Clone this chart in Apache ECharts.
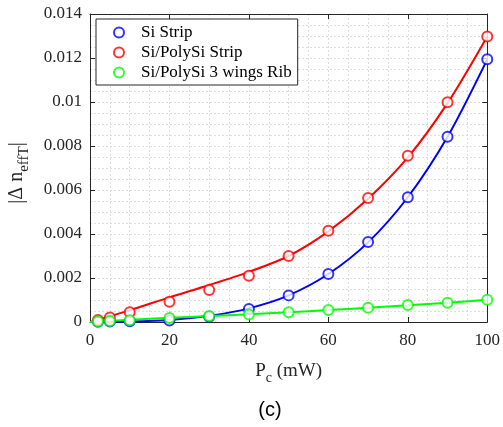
<!DOCTYPE html>
<html>
<head>
<meta charset="utf-8">
<script src="https://cdn.jsdelivr.net/npm/echarts@6/dist/echarts.min.js"></script>
<style>
  html, body { margin: 0; padding: 0; background: #fff; }
  #chart { width: 503px; height: 427px; }
</style>
</head>
<body>
<div id="chart"></div>
<script>
// Coupling power (mW) where the index change was measured
const powerPoints = [2, 5, 10, 20, 30, 40, 50, 60, 70, 80, 90, 100];
// Measured |Δ n_effT| for each waveguide
const siStrip = [0.00001, 0.00002, 0.00003, 0.00007, 0.00024, 0.00059, 0.00121, 0.00218, 0.00364, 0.00567, 0.00842, 0.01194];
const siPolyStrip = [0.00009, 0.00021, 0.00044, 0.00092, 0.00145, 0.00210, 0.00300, 0.00415, 0.00564, 0.00756, 0.00999, 0.01298];
const siPolyRib = [0.00002, 0.00004, 0.00008, 0.00018, 0.00027, 0.00034, 0.00044, 0.00055, 0.00065, 0.00077, 0.00088, 0.00101];

// Fitted trend curves sampled every 10 mW
const fitPower = [0, 10, 20, 30, 40, 50, 60, 70, 80, 90, 100];
const siStripFit = [0, 0.00002, 0.00009, 0.00028, 0.00062, 0.00121, 0.00218, 0.00362, 0.00567, 0.00842, 0.01194];
const siPolyStripFit = [0, 0.00053, 0.00112, 0.00168, 0.00228, 0.00300, 0.00412, 0.00560, 0.00748, 0.00995, 0.01298];
const siPolyRibFit = [0, 0.00010, 0.00019, 0.00027, 0.00035, 0.00044, 0.00054, 0.00065, 0.00076, 0.00088, 0.00101];

const seriesNames = ['Si Strip', 'Si/PolySi Strip', 'Si/PolySi 3 wings Rib'];
const seriesColors = ['#0000ff', '#ff0000', '#00ff00'];
const yTicks = { min: 0, max: 0.014, step: 0.002 };
const xTicks = { min: 0, max: 100, step: 20 };

const serif = '"Liberation Serif", "DejaVu Serif", serif';
const axisInk = '#262626';
const gridInk = '#dedede';

const zip = (xs, ys) => xs.map((x, i) => [x, ys[i]]);

const chart = echarts.init(document.getElementById('chart'), null, { renderer: 'canvas' });

const gridLine = { show: true, lineStyle: { color: gridInk, type: [2, 2], width: 1 } };
const baseAxis = {
  axisLine: { show: true, onZero: false, lineStyle: { color: axisInk, width: 1 } },
  axisTick: { show: true, inside: true, length: 5, lineStyle: { color: axisInk } },
  minorTick: { show: false, splitNumber: 4 },
  splitLine: gridLine,
  minorSplitLine: gridLine
};

function scatterSeries(name, values, color) {
  return {
    name: name,
    type: 'scatter',
    data: zip(powerPoints, values),
    symbol: 'emptyCircle',
    symbolSize: 10,
    itemStyle: { color: color, borderColor: color, borderWidth: 1.6 },
    z: 4
  };
}
function fitSeries(name, values, color) {
  return {
    name: name + ' fit',
    type: 'line',
    data: zip(fitPower, values),
    smooth: 0.3,
    showSymbol: false,
    symbol: 'none',
    lineStyle: { color: color, width: 2 },
    z: 3,
    silent: true
  };
}

chart.setOption({
  animation: false,
  backgroundColor: '#ffffff',
  grid: { left: 90, right: 14, top: 14, bottom: 105 },
  legend: {
    data: seriesNames,
    orient: 'vertical',
    left: 96,
    top: 19,
    padding: [5, 6, 4, 17],
    itemGap: 3,
    itemWidth: 10,
    itemHeight: 10,
    backgroundColor: '#ffffff',
    borderColor: axisInk,
    borderWidth: 1,
    borderRadius: 0,
    textStyle: { fontFamily: serif, fontSize: 17, color: '#000', padding: [0, 0, 0, 12], lineHeight: 16 }
  },
  xAxis: [
    Object.assign({}, baseAxis, {
      type: 'value',
      min: xTicks.min, max: xTicks.max, interval: xTicks.step,
      minorSplitLine: gridLine,
      axisLabel: { fontFamily: serif, fontSize: 17, color: axisInk, margin: 10 },
      name: '{a|P}{s|c}{a| (mW)}',
      nameLocation: 'middle',
      nameGap: 35,
      nameTextStyle: {
        rich: {
          a: { fontFamily: serif, fontSize: 19, color: axisInk },
          s: { fontFamily: serif, fontSize: 14, color: axisInk, padding: [14, 0, 0, 0] }
        }
      }
    }),
    Object.assign({}, baseAxis, {
      type: 'value', position: 'top',
      min: xTicks.min, max: xTicks.max, interval: xTicks.step,
      axisLabel: { show: false }, splitLine: { show: false }, minorSplitLine: { show: false }
    })
  ],
  yAxis: [
    Object.assign({}, baseAxis, {
      type: 'value',
      min: yTicks.min, max: yTicks.max, interval: yTicks.step,
      axisLabel: { fontFamily: serif, fontSize: 17, color: axisInk, margin: 8 }
    }),
    Object.assign({}, baseAxis, {
      type: 'value', position: 'right',
      min: yTicks.min, max: yTicks.max, interval: yTicks.step,
      axisLabel: { show: false }, splitLine: { show: false }, minorSplitLine: { show: false }
    })
  ],
  graphic: [
    {
      type: 'text',
      x: 17, y: 173,
      rotation: Math.PI / 2,
      style: {
        text: '{a||Δ n}{s|effT}{a||}',
        align: 'center',
        verticalAlign: 'middle',
        rich: {
          a: { fontFamily: serif, fontSize: 20, fill: axisInk },
          s: { fontFamily: serif, fontSize: 15, fill: axisInk, padding: [14, 0, 0, 0] }
        }
      }
    },
    {
      type: 'text',
      x: 270, y: 410,
      style: {
        text: '(c)',
        align: 'center',
        verticalAlign: 'middle',
        font: '20px "Liberation Sans", Arial, sans-serif',
        fill: '#000'
      }
    }
  ],
  series: [
    fitSeries(seriesNames[0], siStripFit, seriesColors[0]),
    fitSeries(seriesNames[1], siPolyStripFit, seriesColors[1]),
    fitSeries(seriesNames[2], siPolyRibFit, seriesColors[2]),
    scatterSeries(seriesNames[0], siStrip, seriesColors[0]),
    scatterSeries(seriesNames[1], siPolyStrip, seriesColors[1]),
    scatterSeries(seriesNames[2], siPolyRib, seriesColors[2])
  ]
});
</script>
</body>
</html>
